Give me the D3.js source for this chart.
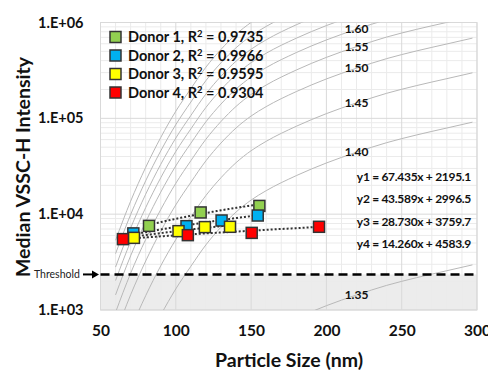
<!DOCTYPE html>
<html>
<head>
<meta charset="utf-8">
<script src="https://cdn.jsdelivr.net/npm/d3@7"></script>
<style>
  body { margin: 0; background: #fff; }
  svg { display: block; font-family: Lato, "Open Sans", sans-serif; }
</style>
</head>
<body>
<div id="chart"></div>
<script>
// reference scattering curves, one array per refractive index (sizes in nm)
const curveSizes = [60, 70, 80, 90, 100, 110, 120, 130, 140, 150, 160, 180, 200, 220, 240, 260, 280, 297];
const ri135 = [2.43, 6.19, 14.0, 28.6, 53.8, 92.7, 155, 238, 341, 455, 570, 818, 1109, 1435, 1807, 2177, 2570, 2958];
const ri140 = [74.8, 191, 431, 883, 1660, 2858, 4784, 7329, 10520, 14030, 17580, 25240, 34200, 44260, 55720, 67140, 79270, 91220];
const ri145 = [245, 625, 1410, 2891, 5434, 9356, 15660, 24000, 34440, 45930, 57550, 82620, 111960, 144900, 182430, 219800, 259500, 298600];
const ri150 = [563, 1439, 3244, 6651, 12500, 21530, 36040, 55210, 79250, 105700, 132400, 190100, 257600, 333400, 419700, 505800, 597100, 687100];
const ri155 = [946, 2416, 5447, 11170, 20990, 36150, 60510, 92700, 133100, 177500, 222400, 319200, 432600, 559800, 704800, 849200, 1002600, 1153700];
const ri160 = [1438, 3673, 8281, 16980, 31920, 54960, 92000, 140900, 202300, 269800, 338100, 485300, 657600, 851100, 1071500, 1291100, 1524300, 1754100];
const ri165 = [2031, 5187, 11700, 23980, 45080, 77610, 129900, 199100, 285700, 381000, 477400, 685400, 928800, 1202000, 1513000];
const ri170 = [2805, 7163, 16150, 33120, 62250, 107200, 179400, 274900, 394600, 526200, 659400, 946500, 1282700];
const ri175 = [3872, 9886, 22290, 45710, 85910, 147900, 247700, 379400, 544600, 726200, 910000, 1306300];
const ri180 = [5344, 13640, 30770, 63080, 118600, 204200, 341800, 523600, 751600, 1002400, 1256000];
const curveLabels = ['1.35', '1.40', '1.45', '1.50', '1.55', '1.60', '', '', '', ''];
const labelSize = 220;

// donor measurements
const donor1Size = [82.2, 116.5, 155.5];
const donor1Vssc = [7550, 10420, 12190];
const donor2Size = [71.8, 107.1, 130.4, 154.4];
const donor2Vssc = [6300, 7500, 8590, 9680];
const donor3Size = [72.2, 101.8, 119.3, 136.0];
const donor3Vssc = [5660, 6650, 7330, 7380];
const donor4Size = [64.9, 108.0, 150.4, 195.1];
const donor4Vssc = [5490, 6040, 6380, 7380];
const donorNames = ['Donor 1', 'Donor 2', 'Donor 3', 'Donor 4'];
const donorR2 = ['0.9735', '0.9966', '0.9595', '0.9304'];
const fitSlope = [67.435, 43.589, 28.730, 14.260];
const fitIntercept = [2195.1, 2996.5, 3759.7, 4583.9];
const donorColors = ['#92D050', '#00B0F0', '#FFFF00', '#FF0000'];

const threshold = 2350;
const xTicks = [50, 100, 150, 200, 250, 300];
const yTicks = [1e3, 1e4, 1e5, 1e6];
const yTickLabels = ['1.E+03', '1.E+04', '1.E+05', '1.E+06'];

const width = 488, height = 370;
const plot = {left: 100.5, right: 477, top: 22.5, bottom: 310};

const svg = d3.select('#chart').append('svg')
  .attr('width', width)
  .attr('height', height);

const x = d3.scaleLinear().domain([50, 300]).range([plot.left, plot.right]);
const y = d3.scaleLog().domain([1e3, 1e6]).range([plot.bottom, plot.top]);

svg.append('defs').append('clipPath').attr('id', 'clip')
  .append('rect')
  .attr('x', plot.left).attr('y', plot.top)
  .attr('width', plot.right - plot.left).attr('height', plot.bottom - plot.top);

// shaded zone under threshold
svg.append('rect')
  .attr('x', plot.left)
  .attr('y', y(threshold))
  .attr('width', plot.right - plot.left)
  .attr('height', plot.bottom - y(threshold))
  .attr('fill', '#ececec');

// grid
const minorX = d3.range(60, 300, 10).filter(v => v % 50 !== 0);
const minorY = [];
[1e3, 1e4, 1e5].forEach(d => { for (let k = 2; k < 10; k++) minorY.push(d * k); });

const grid = svg.append('g');
grid.selectAll('.mx').data(minorX).enter().append('line')
  .attr('x1', d => x(d)).attr('x2', d => x(d))
  .attr('y1', plot.top).attr('y2', plot.bottom)
  .attr('stroke', '#ebebeb');
grid.selectAll('.my').data(minorY).enter().append('line')
  .attr('x1', plot.left).attr('x2', plot.right)
  .attr('y1', d => y(d)).attr('y2', d => y(d))
  .attr('stroke', '#ebebeb');
grid.selectAll('.gx').data(xTicks).enter().append('line')
  .attr('x1', d => x(d)).attr('x2', d => x(d))
  .attr('y1', plot.top).attr('y2', plot.bottom)
  .attr('stroke', '#d9d9d9');
grid.selectAll('.gy').data(yTicks).enter().append('line')
  .attr('x1', plot.left).attr('x2', plot.right)
  .attr('y1', d => y(d)).attr('y2', d => y(d))
  .attr('stroke', '#d9d9d9');
svg.append('rect')
  .attr('x', plot.left).attr('y', plot.top)
  .attr('width', plot.right - plot.left).attr('height', plot.bottom - plot.top)
  .attr('fill', 'none').attr('stroke', '#d9d9d9');

// refractive index curves
const curves = [ri135, ri140, ri145, ri150, ri155, ri160, ri165, ri170, ri175, ri180];
const curveLine = d3.line()
  .x(d => x(d[0]))
  .y(d => y(d[1]))
  .curve(d3.curveMonotoneX);

svg.append('g').attr('clip-path', 'url(#clip)')
  .selectAll('path')
  .data(curves)
  .enter().append('path')
  .attr('d', vals => curveLine(vals.map((v, i) => [curveSizes[i], v])))
  .attr('fill', 'none')
  .attr('stroke', '#b8b8b8')
  .attr('stroke-width', 1);

const li = curveSizes.indexOf(labelSize);
svg.append('g').selectAll('text')
  .data(curves.filter((c, i) => curveLabels[i]))
  .enter().append('text')
  .attr('x', x(labelSize))
  .attr('y', c => y(c[li]))
  .attr('dy', '0.35em')
  .attr('text-anchor', 'middle')
  .attr('font-size', 12)
  .attr('font-weight', 'bold')
  .attr('fill', '#111')
  .text((c, i) => curveLabels[i]);

// threshold
svg.append('line')
  .attr('x1', plot.left).attr('x2', plot.right)
  .attr('y1', y(threshold)).attr('y2', y(threshold))
  .attr('stroke', '#000')
  .attr('stroke-width', 2.5)
  .attr('stroke-dasharray', '9,5');
svg.append('text')
  .attr('x', 34).attr('y', y(threshold))
  .attr('dy', '0.35em')
  .attr('font-size', 10.5)
  .attr('fill', '#222')
  .text('Threshold');
svg.append('line')
  .attr('x1', 83).attr('x2', 93)
  .attr('y1', y(threshold)).attr('y2', y(threshold))
  .attr('stroke', '#000').attr('stroke-width', 2);
svg.append('path')
  .attr('d', `M92,${y(threshold) - 4}L99,${y(threshold)}L92,${y(threshold) + 4}Z`)
  .attr('fill', '#000');

// donors: trend lines then markers
const donorSizes = [donor1Size, donor2Size, donor3Size, donor4Size];
const donorVals = [donor1Vssc, donor2Vssc, donor3Vssc, donor4Vssc];

donorSizes.forEach((sz, k) => {
  const xs = d3.range(d3.min(sz), d3.max(sz), 1).concat([d3.max(sz)]);
  svg.append('path')
    .attr('d', d3.line().x(d => x(d)).y(d => y(fitSlope[k] * d + fitIntercept[k]))(xs))
    .attr('fill', 'none')
    .attr('stroke', '#333')
    .attr('stroke-width', 2)
    .attr('stroke-dasharray', '2,2');
});

donorSizes.forEach((sz, k) => {
  svg.append('g').selectAll('rect')
    .data(sz.map((s, i) => [s, donorVals[k][i]]))
    .enter().append('rect')
    .attr('x', d => x(d[0]) - 5.5)
    .attr('y', d => y(d[1]) - 5.5)
    .attr('width', 11).attr('height', 11)
    .attr('fill', donorColors[k])
    .attr('stroke', '#333')
    .attr('stroke-width', 1.5);
});

// legend
const legend = svg.append('g');
donorNames.forEach((name, k) => {
  const ly = 37 + k * 18.5;
  legend.append('rect')
    .attr('x', 110).attr('y', ly - 5.5)
    .attr('width', 11).attr('height', 11)
    .attr('fill', donorColors[k])
    .attr('stroke', '#333').attr('stroke-width', 1.5);
  const t = legend.append('text')
    .attr('x', 128).attr('y', ly)
    .attr('dy', '0.35em')
    .attr('font-size', 14.5)
    .attr('font-weight', 'bold')
    .attr('fill', '#111');
  t.append('tspan').text(name + ', R');
  t.append('tspan').attr('font-size', 9.5).attr('dy', -5).text('2');
  t.append('tspan').attr('dy', 5).text(' = ' + donorR2[k]);
});

// fit equations
fitSlope.forEach((m, k) => {
  svg.append('text')
    .attr('x', 471).attr('y', 177 + k * 22.2)
    .attr('dy', '0.35em')
    .attr('text-anchor', 'end')
    .attr('font-size', 12)
    .attr('letter-spacing', -0.3)
    .attr('font-weight', 'bold')
    .attr('fill', '#111')
    .text(`y${k + 1} = ${m.toFixed(3)}x + ${fitIntercept[k].toFixed(1)}`);
});

// axes
svg.append('g')
  .attr('transform', `translate(0,${plot.bottom})`)
  .call(d3.axisBottom(x).tickValues(xTicks).tickSize(0).tickPadding(15))
  .call(g => g.select('.domain').remove())
  .selectAll('text')
  .attr('font-size', 15.5)
  .attr('font-weight', 'bold')
  .attr('font-family', 'Lato, sans-serif')
  .attr('fill', '#111');

svg.append('g')
  .attr('transform', `translate(${plot.left},0)`)
  .call(d3.axisLeft(y).tickValues(yTicks).tickFormat((d, i) => yTickLabels[i]).tickSize(0).tickPadding(17))
  .call(g => g.select('.domain').remove())
  .selectAll('text')
  .attr('font-size', 14.5)
  .attr('font-weight', 'bold')
  .attr('font-family', 'Lato, sans-serif')
  .attr('fill', '#111');

svg.append('text')
  .attr('x', 289).attr('y', 360)
  .attr('dy', '0.35em')
  .attr('text-anchor', 'middle')
  .attr('font-size', 19.5)
  .attr('font-weight', 'bold')
  .attr('fill', '#111')
  .text('Particle Size (nm)');

svg.append('g')
  .attr('transform', 'translate(23,167)')
  .append('text')
  .attr('transform', 'rotate(-90)')
  .attr('dy', '0.35em')
  .attr('text-anchor', 'middle')
  .attr('font-size', 19.5)
  .attr('font-weight', 'bold')
  .attr('fill', '#111')
  .text('Median VSSC-H Intensity');
</script>
</body>
</html>
